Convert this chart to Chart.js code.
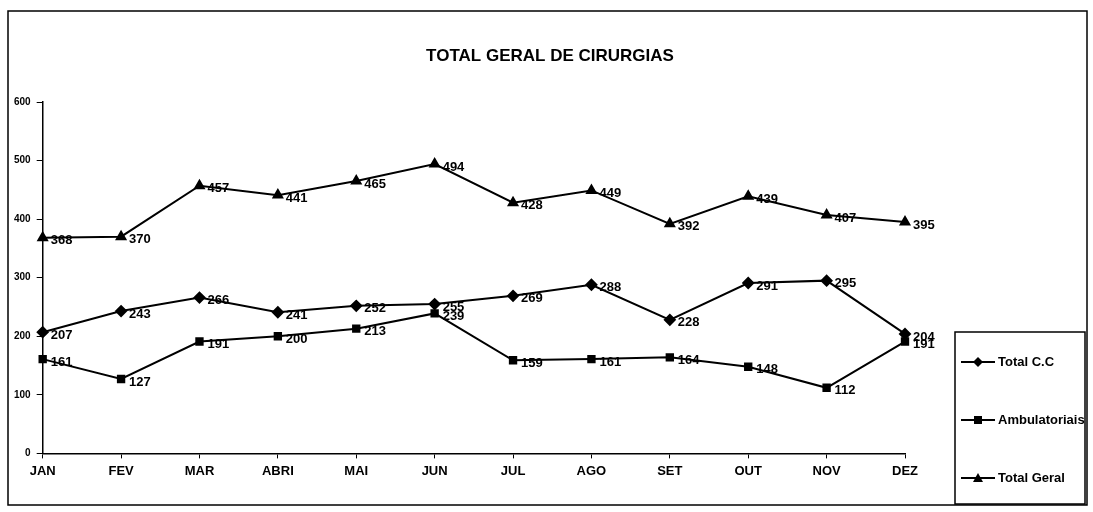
<!DOCTYPE html>
<html>
<head>
<meta charset="utf-8">
<script src="https://cdn.jsdelivr.net/npm/chart.js@4.4.1/dist/chart.umd.min.js"></script>
<style>
    html, body { margin: 0; padding: 0; background: #ffffff; }
    #wrap { width: 1093px; height: 512px; position: relative; }
</style>
</head>
<body>
<div id="wrap"><canvas id="cirurgiasChart" width="1093" height="512"></canvas></div>
<script>
// dados
const meses = ['JAN', 'FEV', 'MAR', 'ABRI', 'MAI', 'JUN', 'JUL', 'AGO', 'SET', 'OUT', 'NOV', 'DEZ'];
const totalCC = [207, 243, 266, 241, 252, 255, 269, 288, 228, 291, 295, 204];
const ambulatoriais = [161, 127, 191, 200, 213, 239, 159, 161, 164, 148, 112, 191];
const totalGeral = [368, 370, 457, 441, 465, 494, 428, 449, 392, 439, 407, 395];
const yTicks = [0, 100, 200, 300, 400, 500, 600];

const FONT = '"Liberation Sans", Arial, sans-serif';

// rótulos de dados à direita de cada ponto
const dataLabels = {
    id: 'dataLabels',
    afterDatasetsDraw(chart) {
        const ctx = chart.ctx;
        ctx.save();
        ctx.font = 'bold 13px ' + FONT;
        ctx.fillStyle = '#000';
        ctx.textBaseline = 'middle';
        ctx.textAlign = 'left';
        chart.data.datasets.forEach((ds, i) => {
            chart.getDatasetMeta(i).data.forEach((pt, j) => {
                ctx.fillText(ds.data[j], pt.x + 8, pt.y + 3);
            });
        });
        ctx.restore();
    }
};

// título, moldura externa e caixa da legenda
const frameAndLegend = {
    id: 'frameAndLegend',
    afterDraw(chart) {
        const ctx = chart.ctx;
        ctx.save();
        ctx.fillStyle = '#000';
        ctx.font = 'bold 17px ' + FONT;
        ctx.textAlign = 'center';
        ctx.textBaseline = 'middle';
        ctx.fillText('TOTAL GERAL DE CIRURGIAS', 550, 56);

        ctx.strokeStyle = '#000';
        ctx.lineWidth = 1.5;
        ctx.strokeRect(8, 11, 1079, 494);

        const bx = 955, by = 332, bw = 130, bh = 172;
        ctx.strokeRect(bx, by, bw, bh);

        const ys = [362, 420, 478];
        ctx.font = 'bold 13px ' + FONT;
        ctx.textAlign = 'left';
        chart.data.datasets.forEach((ds, i) => {
            const y = ys[i];
            ctx.strokeStyle = '#000';
            ctx.lineWidth = 2;
            ctx.beginPath();
            ctx.moveTo(bx + 6, y);
            ctx.lineTo(bx + 40, y);
            ctx.stroke();
            const cx = bx + 23, r = 5;
            ctx.beginPath();
            if (ds.pointStyle === 'rectRot') {
                ctx.moveTo(cx, y - r); ctx.lineTo(cx + r, y); ctx.lineTo(cx, y + r); ctx.lineTo(cx - r, y);
            } else if (ds.pointStyle === 'rect') {
                ctx.rect(cx - 4, y - 4, 8, 8);
            } else {
                ctx.moveTo(cx, y - r); ctx.lineTo(cx + r, y + r - 1); ctx.lineTo(cx - r, y + r - 1);
            }
            ctx.closePath();
            ctx.fill();
            ctx.fillText(ds.label, bx + 43, y);
        });
        ctx.restore();
    }
};

const ctx = document.getElementById('cirurgiasChart').getContext('2d');
new Chart(ctx, {
    type: 'line',
    data: {
        labels: meses,
        datasets: [
            { label: 'Total C.C', data: totalCC, pointStyle: 'rectRot', pointRadius: 5 },
            { label: 'Ambulatoriais', data: ambulatoriais, pointStyle: 'rect', pointRadius: 4.5 },
            { label: 'Total Geral', data: totalGeral, pointStyle: 'triangle', pointRadius: 5 }
        ].map(ds => Object.assign(ds, {
            borderColor: '#000',
            backgroundColor: '#000',
            pointBackgroundColor: '#000',
            pointBorderColor: '#000',
            borderWidth: 2,
            tension: 0
        }))
    },
    options: {
        responsive: false,
        animation: false,
        layout: { padding: { left: 8, right: 188, top: 102, bottom: 28 } },
        plugins: {
            legend: { display: false },
            tooltip: { enabled: false },
            title: { display: false }
        },
        scales: {
            x: {
                offset: false,
                grid: { display: true, drawOnChartArea: false, drawTicks: true, tickLength: 5, color: '#000' },
                border: { display: true, color: '#000', width: 1.5 },
                ticks: { color: '#000', font: { family: FONT, size: 13, weight: 'bold' }, padding: 5, maxRotation: 0 }
            },
            y: {
                min: 0,
                max: 600,
                afterBuildTicks: axis => { axis.ticks = yTicks.map(v => ({ value: v })); },
                grid: { display: true, drawOnChartArea: false, drawTicks: true, tickLength: 6, color: '#000' },
                border: { display: true, color: '#000', width: 1.5 },
                ticks: { color: '#000', font: { family: FONT, size: 10, weight: 'bold' }, padding: 6 }
            }
        }
    },
    plugins: [dataLabels, frameAndLegend]
});
</script>
</body>
</html>
